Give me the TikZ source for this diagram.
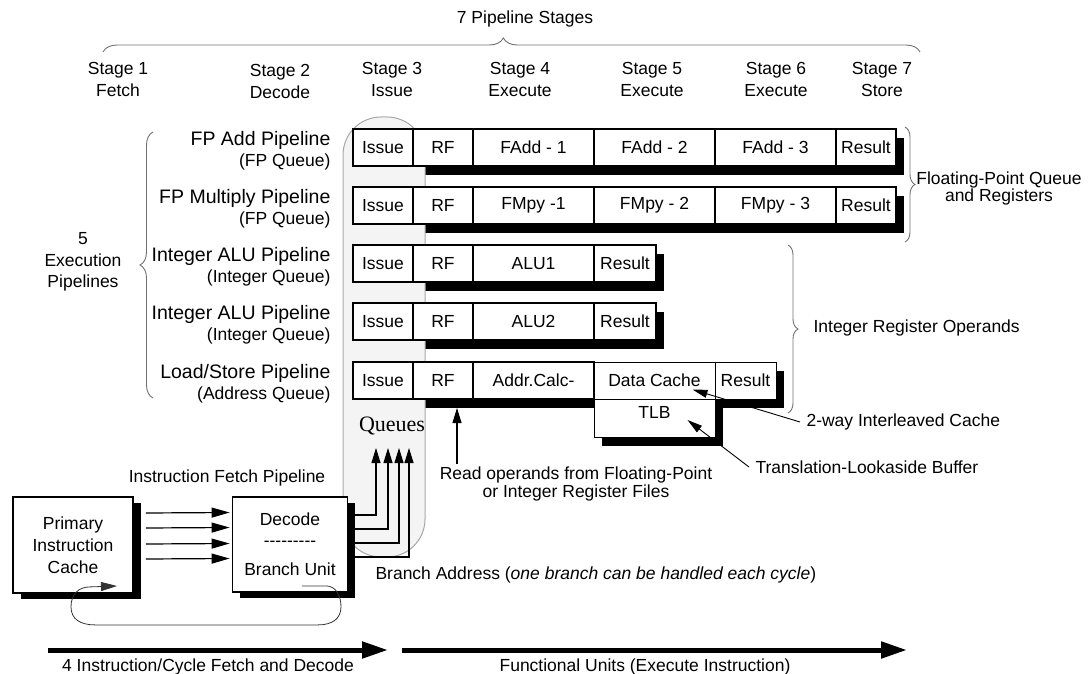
\documentclass[tikz,border=0pt]{standalone}
\usepackage{fontspec}
\setmainfont{Liberation Sans}
\newfontfamily\qfont{Liberation Serif}
\usetikzlibrary{arrows.meta,positioning,calc,decorations.pathreplacing}
\definecolor{Panel}{HTML}{F4F4F4}
\definecolor{PanelEdge}{HTML}{A8A8A8}
\definecolor{BraceGray}{HTML}{707070}
\newcommand{\fs}{\fontsize{17.5}{22}\selectfont}
\newcommand{\fl}{\fontsize{19.5}{21}\selectfont}
\newcommand{\hy}{\mbox{-}}

\begin{document}
\begin{tikzpicture}[x=1pt, y=-1pt, every node/.style={font=\fs},
  unit/.style={draw, line width=1.6pt, fill=white, minimum height=37, inner sep=0pt, outer sep=0pt},
  block/.style={draw, line width=1.8pt, fill=white, inner sep=0pt, align=center},
  brc/.style={draw=BraceGray, line width=0.9pt, decorate, decoration={brace, amplitude=#1}},
  brc/.default=10pt,
  ptr/.style={-{Triangle[length=15pt, width=8pt]}, line width=0.9pt},
  qarr/.style={-{Triangle[length=15pt, width=9pt]}, line width=1.1pt},
  farr/.style={-{Triangle[length=18pt, width=10pt]}, line width=1.2pt},
  big/.style={-{Triangle[length=26pt, width=16pt]}, line width=5pt}]
  \useasboundingbox (0,0) rectangle (1090,674);

  % stages across the top
  \node (title) at (525,19) {7 Pipeline Stages};
  \draw[brc=14pt, decoration={aspect=0.49}] (103,52) -- (920,52);
  \foreach \x/\n/\w in {118/1/Fetch, 392/3/Issue, 520/4/Execute, 652/5/Execute, 776/6/Execute, 882/7/Store}
    \node[align=center] (st\n) at (\x,79) {Stage \n\\\w};
  \node[align=center] (st2) at (280,81) {Stage 2\\Decode};

  % shadows of the pipelines
  \fill (361,138) rectangle (904,175);
  \fill (361,196) rectangle (904,233);
  \fill (361,254) rectangle (664,291);
  \fill (361,312) rectangle (664,349);
  \fill (361,371) rectangle (784,408);
  \fill (602,408) rectangle (723,446);

  % issue queues
  \draw[fill=Panel, draw=PanelEdge, line width=1pt, rounded corners=38] (343,117) rectangle (425,557);
  \node[font=\qfont\fontsize{22}{24}\selectfont] (queues) at (392,426) {Queues};
  \coordinate (qin) at (392,448);

  % FP add
  \node[unit, minimum width=60, anchor=west] (a1) at (353,147.5) {Issue};
  \node[unit, minimum width=60, right=0pt of a1] (a2) {RF};
  \node[unit, minimum width=121, right=0pt of a2] (a3) {FAdd - 1};
  \node[unit, minimum width=121, right=0pt of a3] (a4) {FAdd - 2};
  \node[unit, minimum width=121, right=0pt of a4] (a5) {FAdd - 3};
  \node[unit, minimum width=60, right=0pt of a5] (a6) {Result};
  % FP multiply
  \node[unit, minimum width=60, anchor=west] (b1) at (353,205.5) {Issue};
  \node[unit, minimum width=60, right=0pt of b1] (b2) {RF};
  \node[unit, minimum width=121, right=0pt of b2] (b3) {FMpy -1};
  \node[unit, minimum width=121, right=0pt of b3] (b4) {FMpy - 2};
  \node[unit, minimum width=121, right=0pt of b4] (b5) {FMpy - 3};
  \node[unit, minimum width=60, right=0pt of b5] (b6) {Result};
  % integer ALUs
  \node[unit, minimum width=60, anchor=west] (c1) at (353,263.5) {Issue};
  \node[unit, minimum width=60, right=0pt of c1] (c2) {RF};
  \node[unit, minimum width=121, right=0pt of c2] (c3) {ALU1};
  \node[unit, minimum width=62, right=0pt of c3] (c4) {Result};
  \node[unit, minimum width=60, anchor=west] (d1) at (353,321.5) {Issue};
  \node[unit, minimum width=60, right=0pt of d1] (d2) {RF};
  \node[unit, minimum width=121, right=0pt of d2] (d3) {ALU2};
  \node[unit, minimum width=62, right=0pt of d3] (d4) {Result};
  % load/store
  \node[unit, minimum width=60, anchor=west] (e1) at (353,380.5) {Issue};
  \node[unit, minimum width=60, right=0pt of e1] (e2) {RF};
  \node[unit, minimum width=121, right=0pt of e2] (e3) {Addr.Calc-};
  \node[unit, line width=1pt, minimum width=121, right=0pt of e3] (e4) {Data Cache};
  \node[unit, line width=1pt, minimum width=61, right=0pt of e4] (e5) {Result};
  \node[unit, line width=1pt, minimum width=121, minimum height=38, below=0pt of e4] (tlb) {};
  \node (tlbl) at ([yshift=6pt]tlb.center) {TLB};

  % pipeline names
  \foreach \y/\n/\p/\q in {150.5/1/FP Add Pipeline/FP Queue, 208.5/2/FP Multiply Pipeline/FP Queue,
      266.5/3/Integer ALU Pipeline/Integer Queue, 324.5/4/Integer ALU Pipeline/Integer Queue,
      383.5/5/{Load/Store Pipeline}/Address Queue}
    \node[font=\fl, align=right, anchor=east] (lbl\n) at (334,\y) {\p\\{\fs (\q)}};
  \draw[brc=13pt] (153,398) -- (153,132);
  \node[align=center, font=\fontsize{17.5}{21.5}\selectfont] (five) at (83,262) {5\\Execution\\Pipelines};

  \draw[brc] (905,127) -- (905,242);
  \node[align=center, font=\fontsize{17.5}{17}\selectfont] (fpq) at (999,188) {Floating-Point Queue\\and Registers};
  \draw[brc] (788,245) -- (788,413);
  \node[anchor=west] (intop) at (810,328) {Integer Register Operands};

  % notes on the load/store pipe
  \node[anchor=west] (twoway) at (803,422) {2-way Interleaved Cache};
  \draw[ptr] ([xshift=-3pt]twoway.west) -- ([shift={(38,9)}]e4.center);
  \node[anchor=west] (tlbtxt) at (752,467) {Translation-Lookaside Buffer};
  \draw[ptr] ([xshift=-3pt]tlbtxt.west) -- ([shift={(33,2)}]tlb.center);
  \node[align=center, font=\fontsize{17.5}{15}\selectfont] (readops) at (576,484) {Read operands from Floating-Point\\or Integer Register Files};
  \coordinate (rfin) at ([shift={(14,9)}]e2.south);
  \draw[qarr] (readops.north -| rfin) -- (rfin);

  % fetch and decode
  \fill (21,503) rectangle (141,599);
  \node[block, minimum width=120, minimum height=96] (cache) at (73,545) {Primary\\Instruction\\Cache};
  \fill (240,503) rectangle (355,598);
  \node[block, minimum width=115, minimum height=95] (decode) at (290,544.5) {Decode\\[-1pt]\hy\hy\hy\hy\hy\hy\hy\hy\hy\\[7pt]Branch Unit};
  \node (ifp) at (227,478) {Instruction Fetch Pipeline};
  \foreach \dy in {-32,-17,-1,14}
    \draw[farr] ([shift={(12,\dy)}]cache.east) -- ([shift={(-2,\dy)}]decode.west);
  \foreach \dy/\dx in {-29.5/-16, -15.5/-4, -1.5/7, 12.5/17}
    \draw[qarr] ([shift={(0,\dy)}]decode.east) -| ([shift={(\dx,0)}]qin);
  \draw[-{Triangle[length=16pt, width=9pt]}, line width=0.8pt, black!80]
    ([shift={(12,-7)}]decode.south) -- ++(24,0)
    .. controls +(10,0) and +(0,-11) .. ++(15,21)
    .. controls +(0,12) and +(14,0) .. ++(-23,18) -- ++(-223,0)
    .. controls +(-15,0) and +(0,12) .. ++(-24,-18)
    .. controls +(0,-12) and +(-12,0) .. ++(19,-20)
    -- ([shift={(44,41)}]cache.center);
  \node[anchor=west] (braddr) at (372,575) {Branch Address (\textit{one branch can be handled each cycle})};

  % bottom arrows
  \coordinate (f0) at (48,650);
  \coordinate (f1) at (388,650);
  \coordinate (x0) at (402,650);
  \coordinate (x1) at (907,650);
  \draw[big] (f0) -- (f1);
  \draw[big] (x0) -- (x1);
  \node (fdlbl) at (208,667) {4 Instruction/Cycle Fetch and Decode};
  \node (fulbl) at (645,667) {Functional Units (Execute Instruction)};
\end{tikzpicture}
\end{document}
